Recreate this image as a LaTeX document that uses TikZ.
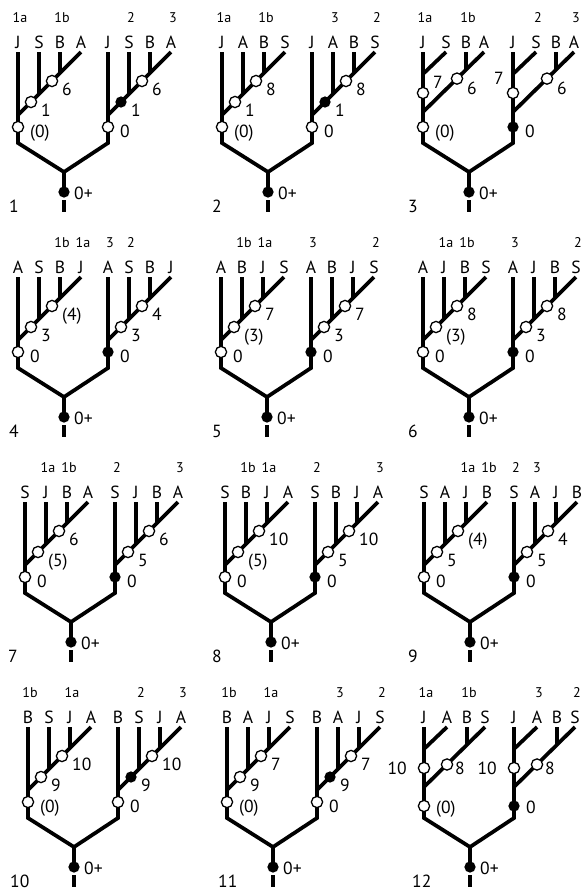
\documentclass[tikz,border=0pt]{standalone}
\usepackage{fontspec}
\setmainfont{PT Sans}
\newcommand{\leaffont}{\fontsize{15}{17}\selectfont}
\newcommand{\tagfont}{\fontsize{12}{14}\selectfont}

% caterpillar subtree: name, leaves, base mark/label, lower mark/label, upper mark/label, tags
\newcommand{\cattree}[9]{%
  \foreach \x [count=\k] in {0,21,42,63} {\coordinate (#1-t\k) at (\x,52);}
  \coordinate (#1-base) at (0,143);
  \coordinate (#1-j1) at (0,115);
  \coordinate (#1-j2) at (21,94);
  \coordinate (#1-j3) at (42,73);
  \draw[branch] (#1-base) -- (#1-t1);
  \draw[branch] (#1-j1) -- (#1-t4);
  \draw[branch] (#1-j2) -- (#1-t2);
  \draw[branch] (#1-j3) -- (#1-t3);
  \node[#3] (#1-m0) at (0,127) {};
  \node[#5] (#1-m1) at (13,102) {};
  \node[#7] (#1-m2) at (34,81) {};
  \node[mlab] (#1-n0) at (12,137) {#4};
  \node[mlab] (#1-n1) at (23,116) {#6};
  \node[mlab] (#1-n2) at (44,95) {#8};
  \foreach \lf [count=\k] in {#2} {\node[leaftext] (#1-l\k) at ([yshift=2.6pt]#1-t\k) {\lf};}
  \foreach \k/\tg in {#9} {\node[tagtext] (#1-g\k) at ([xshift=1.7pt,yshift=25.6pt]#1-t\k) {\tg};}
}

% two-pair subtree: name, four leaves, tags (marks are placed afterwards)
\newcommand{\pairtree}[6]{%
  \foreach \x [count=\k] in {0,23,43,61} {\coordinate (#1-t\k) at (\x,52);}
  \coordinate (#1-base) at (0,143);
  \coordinate (#1-ja) at (0,74);
  \coordinate (#1-jb) at (0,112);
  \coordinate (#1-jc) at (43,69.7);
  \draw[branch] (#1-base) -- (#1-t1);
  \draw[branch] (#1-ja) -- (#1-t2);
  \draw[branch] (#1-jb) -- (#1-t4);
  \draw[branch] (#1-jc) -- (#1-t3);
  \foreach \lf [count=\k] in {#2,#3,#4,#5} {\node[leaftext] (#1-l\k) at ([yshift=2.6pt]#1-t\k) {\lf};}
  \foreach \k/\tg in {#6} {\node[tagtext] (#1-g\k) at ([xshift=1.7pt,yshift=25.6pt]#1-t\k) {\tg};}
}

% fork, root stem and panel number: name, number, x of number
\newcommand{\panelroot}[3]{%
  \coordinate (#1-fork) at (46,172);
  \coordinate (#1-dotc) at (46,192);
  \coordinate (#1-stub) at (46,200);
  \coordinate (#1-end) at (46,212);
  \draw[branch] (#1L-m0) -- (#1L-base) -- (#1-fork) -- (#1R-base) -- (#1R-m0);
  \draw[branch] (#1-fork) -- (#1-dotc);
  \node[fullmark] (#1-dot) at (#1-dotc) {};
  \draw[branch] (#1-stub) -- (#1-end);
  \node[mlab] (#1-rlab) at (56,199) {0+};
  \node[mlab] (#1-num) at (#3,212) {#2};
}

\begin{document}
\begin{tikzpicture}[x=0.3mm, y=-0.3mm,
    branch/.style={line width=3.2pt},
    openmark/.style={circle, draw, fill=white, line width=1.1pt, minimum size=9.6pt, inner sep=0pt},
    fullmark/.style={circle, fill=black, minimum size=9.6pt, inner sep=0pt},
    leaftext/.style={font=\leaffont, inner sep=0pt, anchor=base},
    tagtext/.style={font=\tagfont, inner sep=0pt, anchor=base},
    mlab/.style={font=\leaffont, inner sep=0pt, anchor=base west},
    mlabl/.style={mlab, anchor=base east}]
    \useasboundingbox (0,0) rectangle (585,895);

    % Panel 1
    \begin{scope}[shift={(18,0)}]
        \cattree{p1L}{J,S,B,A}{openmark}{(0)}{openmark}{1}{openmark}{6}{1/1a,3/1b}
        \begin{scope}[shift={(90,0)}]
            \cattree{p1R}{J,S,B,A}{openmark}{0}{fullmark}{1}{openmark}{6}{2/2,4/3}
        \end{scope}
        \panelroot{p1}{1}{-9}
    \end{scope}

    % Panel 2
    \begin{scope}[shift={(222,0)}]
        \cattree{p2L}{J,A,B,S}{openmark}{(0)}{openmark}{1}{openmark}{8}{1/1a,3/1b}
        \begin{scope}[shift={(90,0)}]
            \cattree{p2R}{J,A,B,S}{openmark}{0}{fullmark}{1}{openmark}{8}{2/3,4/2}
        \end{scope}
        \panelroot{p2}{2}{-10}
    \end{scope}

    % Panel 3
    \begin{scope}[shift={(423,0)}]
        \pairtree{p3L}{J}{S}{B}{A}{1/1a,3/1b}
        \node[openmark] (p3L-m0) at (0,127) {};
        \node[openmark] (p3L-m1) at (0,93) {};
        \node[openmark] (p3L-m2) at (34,78.6) {};
        \node[mlab] (p3L-n0) at (12,137) {(0)};
        \node[mlab] (p3L-n1) at (10,88) {7};
        \node[mlab] (p3L-n2) at (44,94) {6};
        \begin{scope}[shift={(90,0)}]
            \pairtree{p3R}{J}{S}{B}{A}{2/2,4/3}
            \node[fullmark] (p3R-m0) at (0,127) {};
            \node[openmark] (p3R-m1) at (0,93) {};
            \node[openmark] (p3R-m2) at (34,78.6) {};
            \node[mlab] (p3R-n0) at (12,137) {0};
            \node[mlabl] (p3R-n1) at (-9,84) {7};
            \node[mlab] (p3R-n2) at (44,94) {6};
        \end{scope}
        \panelroot{p3}{3}{-15}
    \end{scope}

    % Panel 4
    \begin{scope}[shift={(18,225)}]
        \cattree{p4L}{A,S,B,J}{openmark}{0}{openmark}{3}{openmark}{(4)}{3/1b,4/1a}
        \begin{scope}[shift={(90,0)}]
            \cattree{p4R}{A,S,B,J}{fullmark}{0}{openmark}{3}{openmark}{4}{1/3,2/2}
        \end{scope}
        \panelroot{p4}{4}{-9}
    \end{scope}

    % Panel 5
    \begin{scope}[shift={(221,225)}]
        \cattree{p5L}{A,B,J,S}{openmark}{0}{openmark}{(3)}{openmark}{7}{2/1b,3/1a}
        \begin{scope}[shift={(90,0)}]
            \cattree{p5R}{A,B,J,S}{fullmark}{0}{openmark}{3}{openmark}{7}{1/3,4/2}
        \end{scope}
        \panelroot{p5}{5}{-9}
    \end{scope}

    % Panel 6
    \begin{scope}[shift={(423,225)}]
        \cattree{p6L}{A,J,B,S}{openmark}{0}{openmark}{(3)}{openmark}{8}{2/1a,3/1b}
        \begin{scope}[shift={(90,0)}]
            \cattree{p6R}{A,J,B,S}{fullmark}{0}{openmark}{3}{openmark}{8}{1/3,4/2}
        \end{scope}
        \panelroot{p6}{6}{-15}
    \end{scope}

    % Panel 7
    \begin{scope}[shift={(25,450)}]
        \cattree{p7L}{S,J,B,A}{openmark}{0}{openmark}{(5)}{openmark}{6}{2/1a,3/1b}
        \begin{scope}[shift={(90,0)}]
            \cattree{p7R}{S,J,B,A}{fullmark}{0}{openmark}{5}{openmark}{6}{1/2,4/3}
        \end{scope}
        \panelroot{p7}{7}{-17}
    \end{scope}

    % Panel 8
    \begin{scope}[shift={(225,450)}]
        \cattree{p8L}{S,B,J,A}{openmark}{0}{openmark}{(5)}{openmark}{10}{2/1b,3/1a}
        \begin{scope}[shift={(90,0)}]
            \cattree{p8R}{S,B,J,A}{fullmark}{0}{openmark}{5}{openmark}{10}{1/2,4/3}
        \end{scope}
        \panelroot{p8}{8}{-13}
    \end{scope}

    % Panel 9
    \begin{scope}[shift={(424,450)}]
        \cattree{p9L}{S,A,J,B}{openmark}{0}{openmark}{5}{openmark}{(4)}{3/1a,4/1b}
        \begin{scope}[shift={(90,0)}]
            \cattree{p9R}{S,A,J,B}{fullmark}{0}{openmark}{5}{openmark}{4}{1/2,2/3}
        \end{scope}
        \panelroot{p9}{9}{-16}
    \end{scope}

    % Panel 10
    \begin{scope}[shift={(28,675)}]
        \cattree{p10L}{B,S,J,A}{openmark}{(0)}{openmark}{9}{openmark}{10}{1/1b,3/1a}
        \begin{scope}[shift={(90,0)}]
            \cattree{p10R}{B,S,J,A}{openmark}{0}{fullmark}{9}{openmark}{10}{2/2,4/3}
        \end{scope}
        \panelroot{p10}{10}{-18}
    \end{scope}

    % Panel 11
    \begin{scope}[shift={(227,675)}]
        \cattree{p11L}{B,A,J,S}{openmark}{(0)}{openmark}{9}{openmark}{7}{1/1b,3/1a}
        \begin{scope}[shift={(90,0)}]
            \cattree{p11R}{B,A,J,S}{openmark}{0}{fullmark}{9}{openmark}{7}{2/3,4/2}
        \end{scope}
        \panelroot{p11}{11}{-9}
    \end{scope}

    % Panel 12
    \begin{scope}[shift={(424,675)}]
        \pairtree{p12L}{J}{A}{B}{S}{1/1a,3/1b}
        \node[openmark] (p12L-m0) at (0,131) {};
        \node[openmark] (p12L-m1) at (0,93) {};
        \node[openmark] (p12L-m2) at (23,89.5) {};
        \node[mlab] (p12L-n0) at (12,138) {(0)};
        \node[mlabl] (p12L-n1) at (-17,99) {10};
        \node[mlab] (p12L-n2) at (31,99) {8};
        \begin{scope}[shift={(90,0)}]
            \pairtree{p12R}{J}{A}{B}{S}{2/3,4/2}
            \node[fullmark] (p12R-m0) at (0,131) {};
            \node[openmark] (p12R-m1) at (0,93) {};
            \node[openmark] (p12R-m2) at (23,89.5) {};
            \node[mlab] (p12R-n0) at (12,138) {0};
            \node[mlabl] (p12R-n1) at (-17,99) {10};
            \node[mlab] (p12R-n2) at (31,99) {8};
        \end{scope}
        \panelroot{p12}{12}{-12}
    \end{scope}
\end{tikzpicture}
\end{document}
